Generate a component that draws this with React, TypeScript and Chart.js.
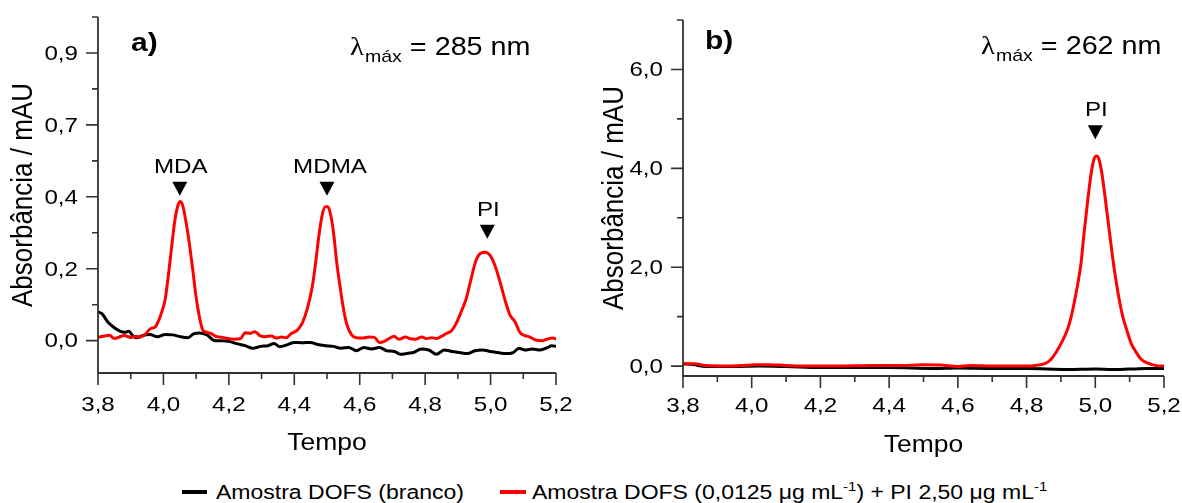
import React, { useEffect, useRef } from "react";
import { Chart, registerables } from "chart.js";

Chart.register(...registerables);

// ---------------- data ----------------
// Panel a) λmáx = 285 nm
const timeRedA = [
  3.800, 3.815, 3.835, 3.850, 3.865, 3.880, 3.900, 3.915, 3.930, 3.945,
  3.960, 3.975, 3.985, 3.995, 4.005, 4.015, 4.025, 4.035, 4.045, 4.052,
  4.060, 4.070, 4.080, 4.090, 4.100, 4.110, 4.120, 4.130, 4.145, 4.160,
  4.180, 4.200, 4.215, 4.235, 4.250, 4.265, 4.280, 4.295, 4.310, 4.330,
  4.345, 4.360, 4.375, 4.390, 4.410, 4.425, 4.440, 4.455, 4.465, 4.475,
  4.485, 4.495, 4.502, 4.510, 4.520, 4.530, 4.540, 4.550, 4.560, 4.575,
  4.590, 4.610, 4.630, 4.645, 4.660, 4.675, 4.690, 4.705, 4.720, 4.740,
  4.755, 4.770, 4.790, 4.805, 4.820, 4.835, 4.850, 4.865, 4.880, 4.895,
  4.910, 4.925, 4.940, 4.955, 4.970, 4.985, 5.000, 5.015, 5.030, 5.045,
  5.060, 5.075, 5.090, 5.105, 5.120, 5.140, 5.160, 5.175, 5.190, 5.200,
];
const absRedA = [
  0.009, 0.012, 0.015, 0.006, 0.010, 0.014, 0.009, 0.012, 0.010, 0.018,
  0.033, 0.038, 0.055, 0.080, 0.113, 0.180, 0.260, 0.335, 0.378, 0.387,
  0.372, 0.325, 0.265, 0.195, 0.120, 0.066, 0.030, 0.024, 0.020, 0.012,
  0.009, 0.005, 0.004, 0.005, 0.022, 0.020, 0.025, 0.014, 0.011, 0.013,
  0.007, 0.010, 0.008, 0.019, 0.030, 0.050, 0.090, 0.150, 0.215, 0.290,
  0.348, 0.372, 0.372, 0.355, 0.300, 0.215, 0.150, 0.090, 0.047, 0.016,
  0.008, 0.007, 0.010, 0.009, -0.005, -0.002, 0.006, 0.012, 0.004, 0.010,
  0.005, 0.004, 0.010, 0.006, 0.008, 0.006, 0.012, 0.020, 0.027, 0.048,
  0.080, 0.115, 0.170, 0.222, 0.243, 0.246, 0.235, 0.205, 0.160, 0.110,
  0.070, 0.052, 0.022, 0.014, 0.010, 0.001, 0.000, 0.005, 0.007, 0.005,
];
const timeBlackA = [
  3.800, 3.812, 3.830, 3.847, 3.864, 3.882, 3.894, 3.906, 3.917, 3.935,
  3.958, 3.982, 4.005, 4.028, 4.052, 4.075, 4.092, 4.110, 4.133, 4.157,
  4.180, 4.200, 4.227, 4.250, 4.274, 4.297, 4.320, 4.338, 4.356, 4.380,
  4.400, 4.425, 4.449, 4.472, 4.496, 4.519, 4.543, 4.566, 4.590, 4.613,
  4.636, 4.660, 4.683, 4.706, 4.724, 4.748, 4.765, 4.788, 4.811, 4.835,
  4.858, 4.882, 4.905, 4.929, 4.952, 4.976, 4.999, 5.022, 5.046, 5.069,
  5.087, 5.105, 5.128, 5.151, 5.175, 5.186, 5.200,
];
const absBlackA = [
  0.080, 0.075, 0.052, 0.038, 0.028, 0.023, 0.026, 0.014, 0.008, 0.014,
  0.017, 0.011, 0.017, 0.016, 0.011, 0.008, 0.019, 0.021, 0.016, 0.000,
  0.000, -0.002, -0.009, -0.014, -0.021, -0.016, -0.014, -0.008, -0.017, -0.011,
  -0.005, -0.006, -0.005, -0.011, -0.014, -0.016, -0.021, -0.019, -0.028, -0.019,
  -0.023, -0.019, -0.028, -0.030, -0.038, -0.035, -0.033, -0.023, -0.026, -0.038,
  -0.026, -0.030, -0.033, -0.036, -0.028, -0.026, -0.030, -0.033, -0.036, -0.033,
  -0.021, -0.026, -0.023, -0.026, -0.019, -0.014, -0.016,
];

// Panel b) λmáx = 262 nm
const timeRedB = [
  3.800, 3.835, 3.866, 3.930, 3.970, 4.007, 4.050, 4.080, 4.150, 4.250,
  4.350, 4.430, 4.495, 4.550, 4.600, 4.636, 4.700, 4.800, 4.830, 4.853,
  4.870, 4.886, 4.902, 4.918, 4.930, 4.940, 4.950, 4.958, 4.967, 4.978,
  4.988, 4.996, 5.003, 5.010, 5.018, 5.027, 5.036, 5.045, 5.054, 5.070,
  5.080, 5.092, 5.105, 5.119, 5.132, 5.146, 5.165, 5.178, 5.200,
];
const absRedB = [
  0.05, 0.05, 0.01, 0.00, 0.01, 0.03, 0.03, 0.02, 0.00, 0.00,
  0.01, 0.01, 0.03, 0.02, -0.01, 0.01, 0.00, 0.00, 0.02, 0.05,
  0.13, 0.28, 0.48, 0.72, 1.00, 1.33, 1.70, 2.05, 2.67, 3.35,
  3.90, 4.18, 4.25, 4.20, 3.95, 3.50, 3.00, 2.50, 2.02, 1.33,
  1.00, 0.72, 0.45, 0.28, 0.15, 0.08, 0.03, 0.01, 0.00,
];
const timeBlackB = [
  3.800, 3.830, 3.866, 3.950, 4.020, 4.100, 4.200, 4.300, 4.400, 4.530,
  4.600, 4.700, 4.800, 4.920, 5.000, 5.050, 5.100, 5.150, 5.200,
];
const absBlackB = [
  0.05, 0.03, -0.01, -0.01, 0.00, -0.01, -0.03, -0.03, -0.03, -0.05,
  -0.04, -0.05, -0.05, -0.07, -0.06, -0.07, -0.06, -0.05, -0.05,
];

// ticks
const xTicks = [3.8, 4.0, 4.2, 4.4, 4.6, 4.8, 5.0, 5.2];
const xTickLabels = ["3,8", "4,0", "4,2", "4,4", "4,6", "4,8", "5,0", "5,2"];
const xMinorTicks = [3.9, 4.1, 4.3, 4.5, 4.7, 4.9, 5.1];
const yTicksA = [0, 0.2, 0.4, 0.6, 0.8];
const yTickLabelsA = ["0,0", "0,2", "0,4", "0,7", "0,9"];
const yMinorTicksA = [0.1, 0.3, 0.5, 0.7, 0.9];
const yTicksB = [0, 2, 4, 6];
const yTickLabelsB = ["0,0", "2,0", "4,0", "6,0"];
const yMinorTicksB = [1, 3, 5, 7];

// peak markers
const peakNamesA = ["MDA", "MDMA", "PI"];
const peakTimesA = [4.05, 4.5, 4.99];
const peakMarkA = [0.403, 0.403, 0.283];
const peakNamesB = ["PI"];
const peakTimesB = [5.0];
const peakMarkB = [4.59];

const legendLabels = ["Amostra DOFS (branco)", "Amostra DOFS (0,0125 μg mL-1) + PI 2,50 μg mL-1"];

// ---------------- styling ----------------
const SX = 1.15;
const SANS = '"Liberation Sans", Arial, sans-serif';
const SERIF = '"Liberation Serif", "Times New Roman", serif';
const AXIS = "#333333";
const RED = "#ff0000";
const BLACK = "#000000";

type PanelCfg = {
  id: string;
  redT: number[]; redV: number[]; blackT: number[]; blackV: number[];
  yMin: number; yMax: number;
  yTicks: number[]; yTickLabels: string[]; yMinor: number[];
  padding: { left: number; right: number; top: number; bottom: number };
  yAxisW: number; xAxisH: number;
  panelLabel: string; panelLabelX: number; panelLabelY: number;
  lambdaNm: string; lambdaX: number; lambdaY: number;
  peakNames: string[]; peakTimes: number[]; peakMarks: number[];
  yTitleX: number; xTitleY: number; xLabelDy: number;
};

function txt(ctx: CanvasRenderingContext2D, s: string, x: number, y: number, font: string,
  align: CanvasTextAlign, base: CanvasTextBaseline, rot = false) {
  ctx.save();
  ctx.font = font;
  ctx.fillStyle = "#000";
  ctx.textAlign = align;
  ctx.textBaseline = base;
  ctx.translate(x, y);
  ctx.scale(SX, 1);
  if (rot) ctx.rotate(-Math.PI / 2);
  ctx.fillText(s, 0, 0);
  ctx.restore();
}

function overlay(cfg: PanelCfg) {
  return {
    id: "overlay_" + cfg.id,
    afterDraw(chart: any) {
      const ctx: CanvasRenderingContext2D = chart.ctx;
      const xs = chart.scales.x;
      const ys = chart.scales.y;
      const { left, right, top, bottom } = chart.chartArea;
      ctx.save();
      ctx.strokeStyle = AXIS;
      ctx.lineWidth = 1.8;
      ctx.lineCap = "butt";
      ctx.beginPath();
      ctx.moveTo(left, top);
      ctx.lineTo(left, bottom);
      ctx.lineTo(right, bottom);
      ctx.stroke();
      ctx.lineWidth = 1.6;
      ctx.beginPath();
      xTicks.forEach((v) => {
        const p = xs.getPixelForValue(v);
        ctx.moveTo(p, bottom); ctx.lineTo(p, bottom + 12);
      });
      xMinorTicks.forEach((v) => {
        const p = xs.getPixelForValue(v);
        ctx.moveTo(p, bottom); ctx.lineTo(p, bottom + 6);
      });
      cfg.yTicks.forEach((v) => {
        const p = ys.getPixelForValue(v);
        ctx.moveTo(left, p); ctx.lineTo(left - 12, p);
      });
      cfg.yMinor.forEach((v) => {
        const p = ys.getPixelForValue(v);
        ctx.moveTo(left, p); ctx.lineTo(left - 6, p);
      });
      ctx.stroke();
      ctx.restore();

      const tickFont = `21px ${SANS}`;
      xTicks.forEach((v, i) => {
        txt(ctx, xTickLabels[i], xs.getPixelForValue(v), bottom + cfg.xLabelDy, tickFont, "center", "middle");
      });
      cfg.yTicks.forEach((v, i) => {
        txt(ctx, cfg.yTickLabels[i], left - 20, ys.getPixelForValue(v) + 1, tickFont, "right", "middle");
      });
      txt(ctx, "Tempo", (left + right) / 2, cfg.xTitleY, `23px ${SANS}`, "center", "alphabetic");
      txt(ctx, "Absorbância / mAU", cfg.yTitleX, (top + bottom) / 2, `26px ${SANS}`, "center", "middle", true);
      txt(ctx, cfg.panelLabel, cfg.panelLabelX, cfg.panelLabelY, `bold 26px ${SANS}`, "left", "alphabetic");
      let x = cfg.lambdaX;
      ctx.font = `25px ${SERIF}`;
      const wl = ctx.measureText("λ").width;
      txt(ctx, "λ", x, cfg.lambdaY, `25px ${SERIF}`, "left", "alphabetic");
      x += wl * SX + 1;
      ctx.font = `17px ${SANS}`;
      const ws = ctx.measureText("máx").width;
      txt(ctx, "máx", x, cfg.lambdaY + 7, `17px ${SANS}`, "left", "alphabetic");
      x += ws * SX;
      txt(ctx, " = " + cfg.lambdaNm + " nm", x, cfg.lambdaY, `25px ${SANS}`, "left", "alphabetic");
      cfg.peakNames.forEach((name, i) => {
        const px = xs.getPixelForValue(cfg.peakTimes[i]);
        const tip = ys.getPixelForValue(cfg.peakMarks[i]);
        ctx.save();
        ctx.fillStyle = "#000";
        ctx.beginPath();
        ctx.moveTo(px - 7.5, tip - 14);
        ctx.lineTo(px + 7.5, tip - 14);
        ctx.lineTo(px, tip);
        ctx.closePath();
        ctx.fill();
        ctx.restore();
        txt(ctx, name, px + (name === "MDMA" ? 3 : 1), tip - 23, `21px ${SANS}`, "center", "alphabetic");
      });
    },
  };
}

function PanelChart({ cfg, left }: { cfg: PanelCfg; left: number }) {
  const ref = useRef<HTMLCanvasElement>(null);
  useEffect(() => {
    const canvas = ref.current!;
    const chart = new Chart(canvas, {
      type: "line",
      data: {
        datasets: [
          {
            label: legendLabels[0],
            data: cfg.blackT.map((t, i) => ({ x: t, y: cfg.blackV[i] })),
            borderColor: BLACK,
            borderWidth: 3,
            order: 1,
          },
          {
            label: legendLabels[1],
            data: cfg.redT.map((t, i) => ({ x: t, y: cfg.redV[i] })),
            borderColor: RED,
            borderWidth: 3,
            order: 0,
          },
        ],
      },
      options: {
        responsive: false,
        animation: false,
        devicePixelRatio: 1,
        events: [],
        layout: { padding: cfg.padding },
        plugins: { legend: { display: false }, tooltip: { enabled: false } },
        elements: {
          point: { radius: 0 },
          line: { cubicInterpolationMode: "monotone", borderJoinStyle: "round", borderCapStyle: "round", fill: false },
        },
        scales: {
          x: {
            type: "linear",
            min: 3.8,
            max: 5.2,
            grid: { display: false },
            border: { display: false },
            ticks: { display: false },
            afterBuildTicks: (s: any) => { s.ticks = xTicks.map((v) => ({ value: v })); },
            afterFit: (s: any) => { s.height = cfg.xAxisH; },
          },
          y: {
            type: "linear",
            min: cfg.yMin,
            max: cfg.yMax,
            grid: { display: false },
            border: { display: false },
            ticks: { display: false },
            afterBuildTicks: (s: any) => { s.ticks = cfg.yTicks.map((v) => ({ value: v })); },
            afterFit: (s: any) => { s.width = cfg.yAxisW; },
          },
        },
      } as any,
      plugins: [overlay(cfg)],
    });
    return () => chart.destroy();
  }, []);
  return <canvas ref={ref} width={591} height={460} style={{ position: "absolute", left, top: 0 }} />;
}

const cfgA: PanelCfg = {
  id: "a",
  redT: timeRedA, redV: absRedA, blackT: timeBlackA, blackV: absBlackA,
  yMin: -0.09, yMax: 0.9,
  yTicks: yTicksA, yTickLabels: yTickLabelsA, yMinor: yMinorTicksA,
  padding: { left: 0, right: 35, top: 17, bottom: 0 },
  yAxisW: 98, xAxisH: 87,
  panelLabel: "a)", panelLabelX: 131, panelLabelY: 51,
  lambdaNm: "285", lambdaX: 350, lambdaY: 55,
  peakNames: peakNamesA, peakTimes: peakTimesA, peakMarks: peakMarkA,
  yTitleX: 24, xTitleY: 450, xLabelDy: 32,
};

const cfgB: PanelCfg = {
  id: "b",
  redT: timeRedB, redV: absRedB, blackT: timeBlackB, blackV: absBlackB,
  yMin: -0.2, yMax: 7.0,
  yTicks: yTicksB, yTickLabels: yTickLabelsB, yMinor: yMinorTicksB,
  padding: { left: 0, right: 18, top: 20, bottom: 0 },
  yAxisW: 92, xAxisH: 84,
  panelLabel: "b)", panelLabelX: 114, panelLabelY: 49,
  lambdaNm: "262", lambdaX: 390, lambdaY: 54,
  peakNames: peakNamesB, peakTimes: peakTimesB, peakMarks: peakMarkB,
  yTitleX: 24, xTitleY: 452, xLabelDy: 30,
};

const legendText: React.CSSProperties = {
  position: "absolute",
  top: 482,
  fontFamily: SANS,
  fontSize: 20,
  lineHeight: "20px",
  whiteSpace: "nowrap",
  transform: `scaleX(${SX})`,
  transformOrigin: "0 0",
  color: "#000",
};
const sup: React.CSSProperties = { fontSize: 13, position: "relative", top: -8 };

export default function App() {
  return (
    <div style={{ position: "absolute", left: 0, top: 0, width: 1182, height: 503, background: "#fff", overflow: "hidden" }}>
      <PanelChart cfg={cfgA} left={0} />
      <PanelChart cfg={cfgB} left={591} />
      <div style={{ position: "absolute", left: 182, top: 490, width: 25, height: 4, background: BLACK }} />
      <div style={{ ...legendText, left: 216 }}>{legendLabels[0]}</div>
      <div style={{ position: "absolute", left: 500, top: 490, width: 26, height: 4, background: RED }} />
      <div style={{ ...legendText, left: 532 }}>
        Amostra DOFS (0,0125 μg mL<span style={sup}>-1</span>) + PI 2,50 μg mL<span style={sup}>-1</span>
      </div>
    </div>
  );
}
